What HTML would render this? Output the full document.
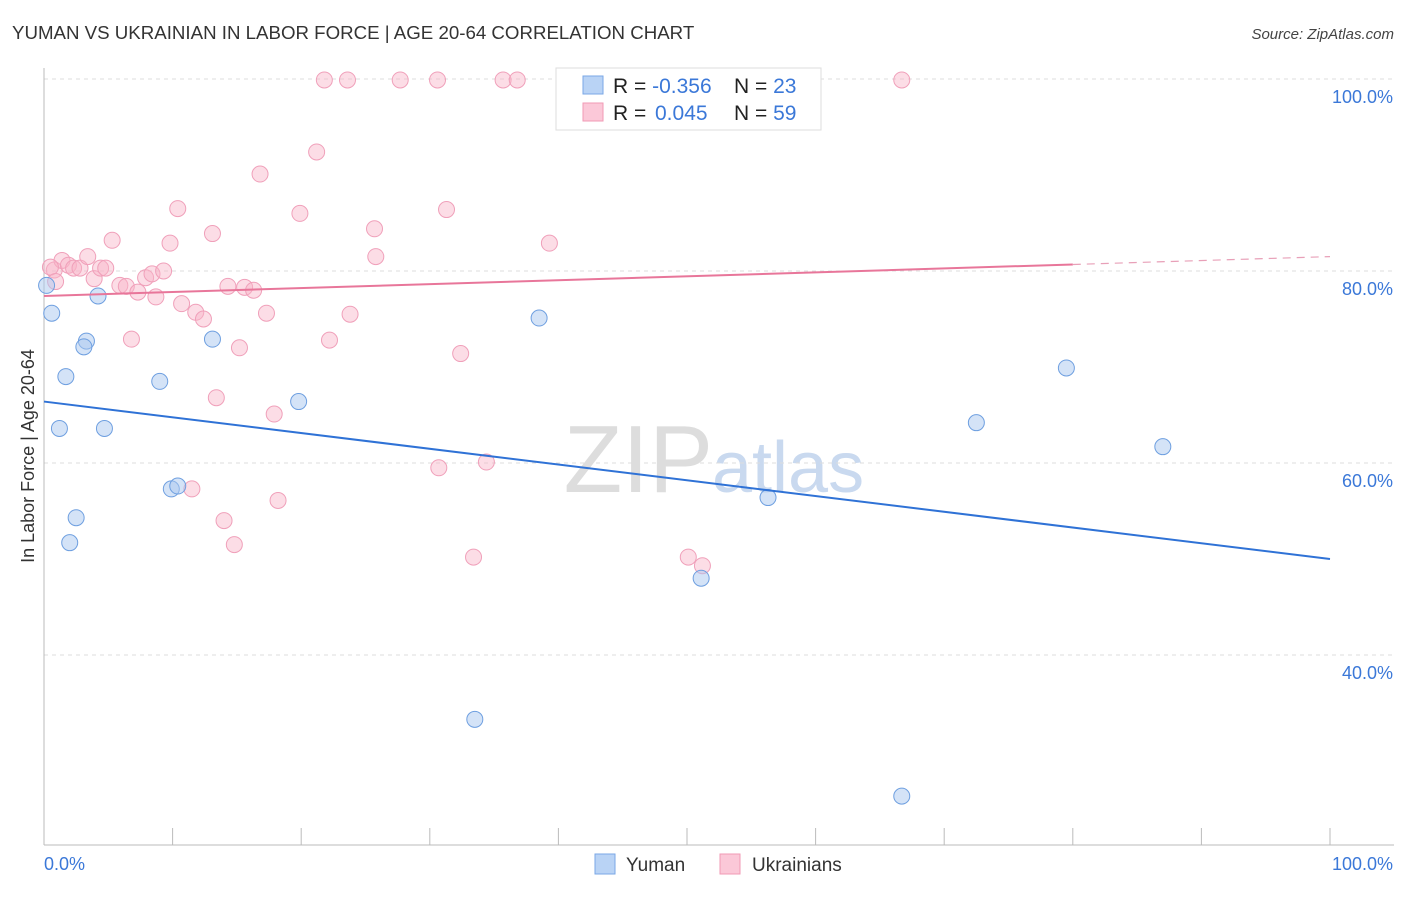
<!DOCTYPE html>
<html><head><meta charset="utf-8"><style>
body{margin:0;background:#fff;font-family:"Liberation Sans",sans-serif}
svg text{font-family:"Liberation Sans",sans-serif}
</style></head><body>
<svg id="chart" width="1406" height="892">
<text x="12" y="39" font-size="18.7" fill="#333">YUMAN VS UKRAINIAN IN LABOR FORCE | AGE 20-64 CORRELATION CHART</text>
<text x="1394" y="39" font-size="15" fill="#444" font-style="italic" text-anchor="end">Source: ZipAtlas.com</text>
<text x="713" y="492" font-size="96" fill="#ddd" text-anchor="end" font-family="Liberation Serif">ZIP</text>
<text x="712" y="492" font-size="72" fill="#c9d9ef">atlas</text>
<text transform="translate(34,456) rotate(-90)" font-size="18" fill="#333" text-anchor="middle">In Labor Force | Age 20-64</text>
<g id="grid"></g><g id="axes"></g><g id="marks"></g>
<g>
<rect x="556" y="68" width="265" height="62" fill="#fff" stroke="#ddd"/>
<rect x="583" y="76" width="20" height="18" fill="#b9d3f5" stroke="#7aa7e6"/>
<rect x="583" y="103" width="20" height="18" fill="#fbc8d8" stroke="#f09ab5"/>
<text x="613" y="93" font-size="21" fill="#222">R = <tspan fill="#3b78d8">-0.356</tspan><tspan x="734">N = </tspan><tspan fill="#3b78d8">23</tspan></text>
<text x="613" y="120" font-size="21" fill="#222">R = <tspan x="655" fill="#3b78d8">0.045</tspan><tspan x="734">N = </tspan><tspan fill="#3b78d8">59</tspan></text>
</g>
<g>
<rect x="595" y="854" width="20" height="20" fill="#b9d3f5" stroke="#7aa7e6"/>
<text x="626" y="871" font-size="19" fill="#333">Yuman</text>
<rect x="720" y="854" width="20" height="20" fill="#fbc8d8" stroke="#f09ab5"/>
<text x="752" y="871" font-size="19" fill="#333">Ukrainians</text>
</g>
</svg>
<script>
const yumanX=[0.2,0.6,4.2,1.7,3.3,3.1,1.2,4.7,2.5,2.0,9.0,13.1,9.9,10.4,19.8,38.5,33.5,51.1,56.3,72.5,79.5,87.0,66.7];
const yumanY=[78.5,75.6,77.4,69.0,72.7,72.1,63.6,63.6,54.3,51.7,68.5,72.9,57.3,57.6,66.4,75.1,33.3,48.0,56.4,64.2,69.9,61.7,25.3];
const ukrX=[0.8,1.4,1.9,2.3,2.8,3.4,3.9,4.4,4.8,5.3,5.9,6.4,7.3,7.9,8.4,8.7,9.3,9.8,10.4,10.7,11.8,12.4,13.1,13.4,14.3,15.2,15.6,16.3,16.8,17.3,17.9,14.0,14.8,18.2,11.5,19.9,21.2,22.2,23.6,21.8,23.8,25.7,25.8,27.7,30.6,31.3,32.4,30.7,34.4,33.4,35.7,36.8,39.3,50.1,51.2,66.7,6.8,0.5,0.9];
const ukrY=[80.1,81.1,80.6,80.3,80.3,81.5,79.2,80.3,80.3,83.2,78.5,78.4,77.8,79.3,79.7,77.3,80.0,82.9,86.5,76.6,75.7,75.0,83.9,66.8,78.4,72.0,78.3,78.0,90.1,75.6,65.1,54.0,51.5,56.1,57.3,86.0,92.4,72.8,99.9,99.9,75.5,84.4,81.5,99.9,99.9,86.4,71.4,59.5,60.1,50.2,99.9,99.9,82.9,50.2,49.3,99.9,72.9,80.4,78.9];
const yTicks=[40,60,80,100];
const yTickLabels=["40.0%","60.0%","80.0%","100.0%"];
const xTicks=[0,10,20,30,40,50,60,70,80,90,100];
const yumanTrend=[66.4,50.0];
const ukrTrend=[77.4,81.5];
const ukrTrendSolidEnd=80;
const NS="http://www.w3.org/2000/svg";
const sx=v=>44+v*12.86, sy=v=>1039-v*9.6;
function mk(tag,attrs,parent){const e=document.createElementNS(NS,tag);for(const k in attrs)e.setAttribute(k,attrs[k]);document.getElementById(parent).appendChild(e);return e;}
yTicks.forEach((t,i)=>{
 const g=mk('line',{x1:44,x2:1394,y1:sy(t),y2:sy(t),stroke:'#ddd','stroke-dasharray':'4,4'},'grid');
 
 
 const l=mk('text',{x:1393,y:sy(t)+24,'font-size':18,fill:'#3b78d8','text-anchor':'end'},'grid');
 l.textContent=yTickLabels[i];
 
 
});
const topg=mk('line',{x1:44,x2:1394,y1:79,y2:79,stroke:'#ddd','stroke-dasharray':'4,4'},'grid');


const ya=mk('line',{x1:44,x2:44,y1:68,y2:845,stroke:'#bbb'},'axes');


const xa=mk('line',{x1:44,x2:1394,y1:845,y2:845,stroke:'#bbb'},'axes');


xTicks.forEach(t=>{const l=mk('line',{x1:sx(t),x2:sx(t),y1:828,y2:845,stroke:'#bbb'},'axes');
 
 });
const x0=mk('text',{x:44,y:870,'font-size':18,fill:'#3b78d8'},'axes');x0.textContent='0.0%';


const x1=mk('text',{x:1393,y:870,'font-size':18,fill:'#3b78d8','text-anchor':'end'},'axes');x1.textContent='100.0%';


ukrX.forEach((x,i)=>{const c=mk('circle',{cx:sx(x),cy:sy(ukrY[i]),r:8,fill:'rgba(248,180,200,0.45)',stroke:'#f0a0ba','stroke-width':1},'marks');
 
 });
yumanX.forEach((x,i)=>{const c=mk('circle',{cx:sx(x),cy:sy(yumanY[i]),r:8,fill:'rgba(170,200,240,0.5)',stroke:'#6e9fe0','stroke-width':1},'marks');
 
 });
const by=mk('line',{x1:sx(0),y1:sy(yumanTrend[0]),x2:sx(100),y2:sy(yumanTrend[1]),stroke:'#2f72d6','stroke-width':2},'marks');


const pm=ukrTrend[0]+(ukrTrend[1]-ukrTrend[0])*ukrTrendSolidEnd/100;
const pl=mk('line',{x1:sx(0),y1:sy(ukrTrend[0]),x2:sx(ukrTrendSolidEnd),y2:sy(pm),stroke:'#e8769a','stroke-width':2},'marks');


const pd=mk('line',{x1:sx(ukrTrendSolidEnd),y1:sy(pm),x2:sx(100),y2:sy(ukrTrend[1]),stroke:'#e8a0b8','stroke-width':1.2,'stroke-dasharray':'8,6'},'marks');


</script>
</body></html>
